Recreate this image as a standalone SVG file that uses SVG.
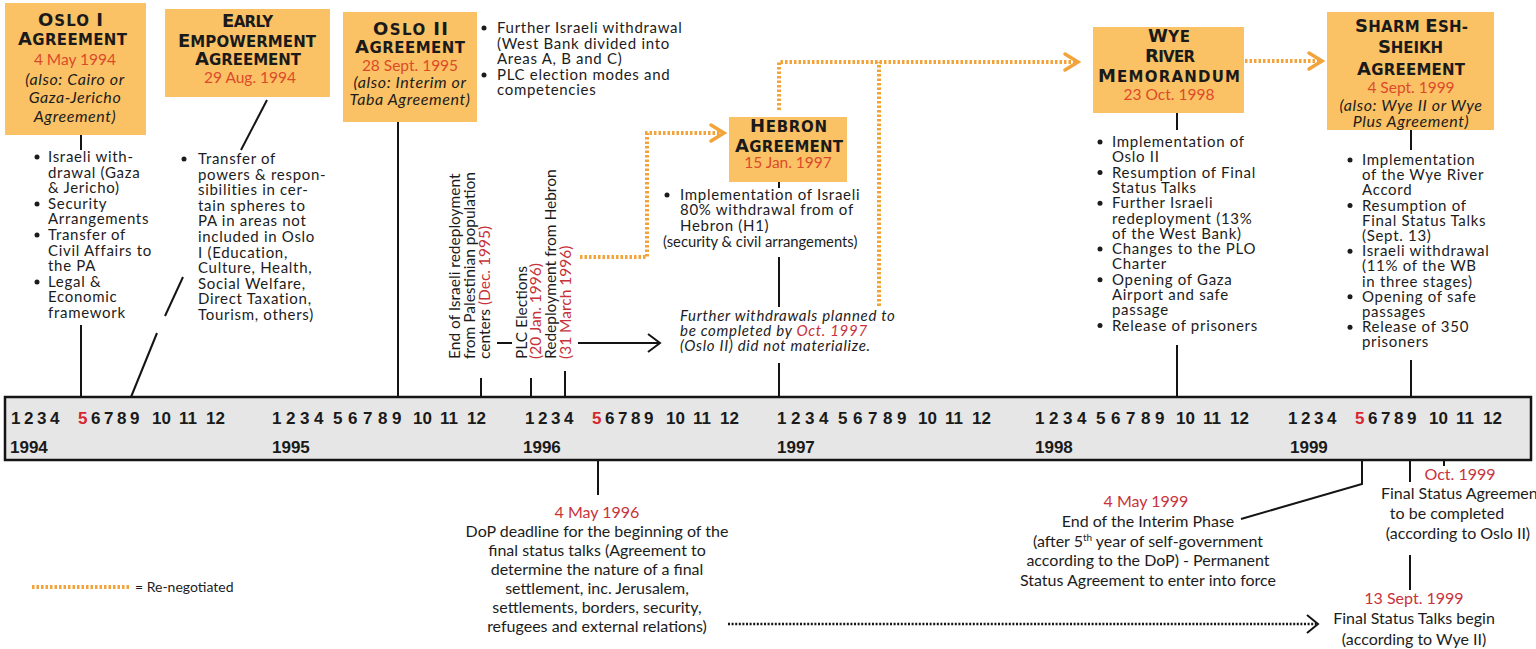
<svg xmlns="http://www.w3.org/2000/svg" width="1536" height="649" viewBox="0 0 1536 649">
<defs>
<style>
.bx{fill:#FAC265}
.t{font-family:Lato,"Liberation Sans",sans-serif;fill:#1c1c1c}
.b{font-size:15px;letter-spacing:0.7px}
.v{font-size:15.5px}
.s{font-size:14px}
.ti{font-family:"DejaVu Sans","Liberation Sans",sans-serif;font-weight:bold;font-size:15px;fill:#1a1a1a}
.bg{font-size:18px}
.dt{fill:#DD4A2A;font-size:15.5px}
.bi{font-style:italic;font-size:16px;letter-spacing:0.6px}
.rd{fill:#C8323A}
.it{font-style:italic}
.ln{stroke:#141414;stroke-width:2;fill:none}
.dot{stroke:#F2A33A;stroke-width:4;stroke-dasharray:2.5 2;fill:none}
.chev{stroke:#F2A33A;stroke-width:3.5;fill:none;stroke-linecap:round;stroke-linejoin:miter}
.bdot{stroke:#141414;stroke-width:2.5;stroke-dasharray:2 1.6;fill:none}
.mn{font-family:"Liberation Sans",Arial,sans-serif;font-weight:bold;font-size:17px;fill:#1a1a1a}
.m5{fill:#D8262E}
.blt{fill:#1c1c1c}
</style>
</defs>
<rect x="0" y="0" width="1536" height="649" fill="#ffffff"/>

<!-- connectors -->
<g id="connectors">
<line class="ln" x1="81" y1="135" x2="81" y2="150"/>
<line class="ln" x1="81" y1="325" x2="81" y2="397"/>
<line class="ln" x1="267" y1="100" x2="241" y2="150"/>
<line class="ln" x1="183" y1="277" x2="165" y2="316"/>
<line class="ln" x1="157" y1="333" x2="131" y2="397"/>
<line class="ln" x1="398" y1="122" x2="398" y2="397"/>
<line class="ln" x1="481" y1="378" x2="481" y2="397"/>
<line class="ln" x1="531" y1="378" x2="531" y2="397"/>
<line class="ln" x1="565" y1="371" x2="565" y2="397"/>
<line class="ln" x1="497" y1="343" x2="512" y2="343"/>
<line class="ln" x1="578" y1="343" x2="659" y2="343"/>
<polyline class="ln" points="648,334 660,343 648,352" stroke-width="2.5"/>
<line class="ln" x1="779" y1="182" x2="779" y2="188"/>
<line class="ln" x1="779" y1="257" x2="779" y2="307"/>
<line class="ln" x1="779" y1="363" x2="779" y2="397"/>
<line class="ln" x1="1177" y1="113" x2="1177" y2="130"/>
<line class="ln" x1="1177" y1="345" x2="1177" y2="397"/>
<line class="ln" x1="1411" y1="130" x2="1411" y2="150"/>
<line class="ln" x1="1411" y1="360" x2="1411" y2="397"/>
<line class="ln" x1="598" y1="460" x2="598" y2="495"/>
<polyline class="ln" points="1362,460 1362,484 1241,519"/>
<line class="ln" x1="1410" y1="460" x2="1410" y2="482"/>
<line class="ln" x1="1444" y1="460" x2="1444" y2="466"/>
<line class="ln" x1="1410" y1="555" x2="1410" y2="590"/>
<line class="bdot" x1="728" y1="624" x2="1316" y2="624"/>
<polyline class="ln" points="1307,615 1318,624 1307,633" stroke-width="2.5"/>
<!-- re-negotiated (orange dotted) -->
<polyline class="dot" points="580,257 647,257 647,133 722,133"/>
<polyline class="chev" points="711,125 724,133 711,141"/>
<polyline class="dot" points="779,110 779,62 1076,62"/>
<line class="dot" x1="879" y1="306" x2="879" y2="62"/>
<polyline class="chev" points="1065,54 1078,62 1065,70"/>
<line class="dot" x1="1245" y1="61" x2="1320" y2="61"/>
<polyline class="chev" points="1309,53 1322,61 1309,69"/>
</g>

<!-- timeline -->
<g id="timeline">
<rect x="5" y="397" width="1526" height="63" fill="#E6E6E6" stroke="#141414" stroke-width="2.5"/>
<text class="mn" y="424"><tspan x="11">1</tspan><tspan x="24">2</tspan><tspan x="37">3</tspan><tspan x="50">4</tspan><tspan x="78" class="m5">5</tspan><tspan x="91">6</tspan><tspan x="104">7</tspan><tspan x="117">8</tspan><tspan x="130">9</tspan><tspan x="152">10</tspan><tspan x="179">11</tspan><tspan x="206">12</tspan></text>
<text class="mn" y="424"><tspan x="272">1</tspan><tspan x="286">2</tspan><tspan x="300">3</tspan><tspan x="314">4</tspan><tspan x="333">5</tspan><tspan x="348">6</tspan><tspan x="363">7</tspan><tspan x="378">8</tspan><tspan x="392">9</tspan><tspan x="413">10</tspan><tspan x="440">11</tspan><tspan x="467">12</tspan></text>
<text class="mn" y="424"><tspan x="525">1</tspan><tspan x="538">2</tspan><tspan x="551">3</tspan><tspan x="564">4</tspan><tspan x="592" class="m5">5</tspan><tspan x="605">6</tspan><tspan x="618">7</tspan><tspan x="631">8</tspan><tspan x="644">9</tspan><tspan x="666">10</tspan><tspan x="693">11</tspan><tspan x="720">12</tspan></text>
<text class="mn" y="424"><tspan x="777">1</tspan><tspan x="791">2</tspan><tspan x="805">3</tspan><tspan x="819">4</tspan><tspan x="838">5</tspan><tspan x="853">6</tspan><tspan x="868">7</tspan><tspan x="883">8</tspan><tspan x="897">9</tspan><tspan x="918">10</tspan><tspan x="945">11</tspan><tspan x="972">12</tspan></text>
<text class="mn" y="424"><tspan x="1035">1</tspan><tspan x="1049">2</tspan><tspan x="1063">3</tspan><tspan x="1077">4</tspan><tspan x="1096">5</tspan><tspan x="1111">6</tspan><tspan x="1126">7</tspan><tspan x="1141">8</tspan><tspan x="1155">9</tspan><tspan x="1176">10</tspan><tspan x="1203">11</tspan><tspan x="1230">12</tspan></text>
<text class="mn" y="424"><tspan x="1288">1</tspan><tspan x="1301">2</tspan><tspan x="1314">3</tspan><tspan x="1327">4</tspan><tspan x="1355" class="m5">5</tspan><tspan x="1368">6</tspan><tspan x="1381">7</tspan><tspan x="1394">8</tspan><tspan x="1407">9</tspan><tspan x="1429">10</tspan><tspan x="1456">11</tspan><tspan x="1483">12</tspan></text>
<text class="mn" y="453"><tspan x="10">1994</tspan><tspan x="272">1995</tspan><tspan x="523">1996</tspan><tspan x="777">1997</tspan><tspan x="1035">1998</tspan><tspan x="1290">1999</tspan></text>
</g>

<!-- Oslo I -->
<g id="oslo1">
<rect class="bx" x="5" y="3" width="141" height="132"/>
<text class="ti" x="38" y="26" textLength="65"><tspan class="bg">O</tspan>SLO <tspan class="bg">I</tspan></text>
<text class="ti" x="18" y="45" textLength="109"><tspan class="bg">A</tspan>GREEMENT</text>
<text class="t dt" x="75" y="65" text-anchor="middle">4 May 1994</text>
<text class="t bi" x="75" y="85" text-anchor="middle">(also: Cairo or</text>
<text class="t bi" x="75" y="103" text-anchor="middle">Gaza-Jericho</text>
<text class="t bi" x="75" y="122" text-anchor="middle">Agreement)</text>
</g>
<g id="oslo1-items">
<circle class="blt" cx="37" cy="157" r="2.5"/><circle class="blt" cx="37" cy="204" r="2.5"/><circle class="blt" cx="37" cy="235" r="2.5"/><circle class="blt" cx="37" cy="282" r="2.5"/>
<text class="t b" x="48"><tspan y="162">Israeli with-</tspan><tspan x="48" y="177.6">drawal (Gaza</tspan><tspan x="48" y="193.2">&amp; Jericho)</tspan><tspan x="48" y="208.8">Security</tspan><tspan x="48" y="224.4">Arrangements</tspan><tspan x="48" y="240">Transfer of</tspan><tspan x="48" y="255.6">Civil Affairs to</tspan><tspan x="48" y="271.2">the PA</tspan><tspan x="48" y="286.8">Legal  &amp;</tspan><tspan x="48" y="302.4">Economic</tspan><tspan x="48" y="318">framework</tspan></text>
</g>

<!-- Early Empowerment -->
<g id="early-empowerment">
<rect class="bx" x="165" y="9" width="165" height="88"/>
<text class="ti" x="222" y="27" textLength="51"><tspan class="bg">E</tspan>ARLY</text>
<text class="ti" x="178" y="47" textLength="138"><tspan class="bg">E</tspan>MPOWERMENT</text>
<text class="ti" x="195" y="65" textLength="106"><tspan class="bg">A</tspan>GREEMENT</text>
<text class="t dt" x="250" y="83" text-anchor="middle">29 Aug. 1994</text>
</g>
<g id="early-items">
<circle class="blt" cx="184" cy="159" r="2.5"/>
<text class="t b" x="198"><tspan y="164">Transfer of</tspan><tspan x="198" y="179.6">powers &amp; respon-</tspan><tspan x="198" y="195.2">sibilities in cer-</tspan><tspan x="198" y="210.8">tain spheres to</tspan><tspan x="198" y="226.4">PA in areas not</tspan><tspan x="198" y="242">included in Oslo</tspan><tspan x="198" y="257.6">I (Education,</tspan><tspan x="198" y="273.2">Culture, Health,</tspan><tspan x="198" y="288.8">Social Welfare,</tspan><tspan x="198" y="304.4">Direct Taxation,</tspan><tspan x="198" y="320">Tourism, others)</tspan></text>
</g>

<!-- Oslo II -->
<g id="oslo2">
<rect class="bx" x="343" y="12" width="134" height="110"/>
<text class="ti" x="373" y="35" textLength="75"><tspan class="bg">O</tspan>SLO <tspan class="bg">II</tspan></text>
<text class="ti" x="355" y="53" textLength="110"><tspan class="bg">A</tspan>GREEMENT</text>
<text class="t dt" x="410" y="71" text-anchor="middle">28 Sept. 1995</text>
<text class="t bi" x="410" y="88" text-anchor="middle">(also: Interim or</text>
<text class="t bi" x="410" y="105" text-anchor="middle">Taba Agreement)</text>
</g>
<g id="oslo2-items">
<circle class="blt" cx="484" cy="28" r="2.5"/><circle class="blt" cx="484" cy="75" r="2.5"/>
<text class="t b" x="497"><tspan y="33">Further Israeli withdrawal</tspan><tspan x="497" y="48.5">(West Bank divided into</tspan><tspan x="497" y="64">Areas A, B and C)</tspan><tspan x="497" y="79.5">PLC election modes and</tspan><tspan x="497" y="95">competencies</tspan></text>
</g>

<!-- vertical event labels -->
<g id="redeployment-dec95">
<text class="t v" transform="translate(460,359) rotate(-90)">End of Israeli redeployment</text>
<text class="t v" transform="translate(475,359) rotate(-90)">from Palestinian population</text>
<text class="t v" transform="translate(490,359) rotate(-90)">centers <tspan class="rd">(Dec. 1995)</tspan></text>
</g>
<g id="plc-elections">
<text class="t v" transform="translate(527,359) rotate(-90)">PLC Elections</text>
<text class="t v rd" transform="translate(541,359) rotate(-90)">(20 Jan. 1996)</text>
</g>
<g id="hebron-redeployment">
<text class="t v" transform="translate(556,359) rotate(-90)">Redeployment from Hebron</text>
<text class="t v rd" transform="translate(571,359) rotate(-90)">(31 March 1996)</text>
</g>

<!-- Hebron -->
<g id="hebron">
<rect class="bx" x="729" y="117" width="118" height="65"/>
<text class="ti" x="750" y="132" textLength="77"><tspan class="bg">H</tspan>EBRON</text>
<text class="ti" x="735" y="152" textLength="108"><tspan class="bg">A</tspan>GREEMENT</text>
<text class="t dt" x="788" y="168" text-anchor="middle">15 Jan. 1997</text>
</g>
<g id="hebron-items">
<circle class="blt" cx="667" cy="195" r="2.5"/>
<text class="t b" x="680"><tspan y="200">Implementation of Israeli</tspan><tspan x="680" y="215.3">80% withdrawal from of</tspan><tspan x="680" y="230.6">Hebron (H1)</tspan></text>
<text class="t" font-size="14.8" x="663" y="247">(security &amp; civil arrangements)</text>
</g>
<g id="further-withdrawals">
<text class="t b it" x="680" y="321">Further withdrawals planned to</text>
<text class="t b it" x="680" y="336">be completed by <tspan class="rd">Oct. 1997</tspan></text>
<text class="t b it" x="680" y="351">(Oslo II) did not materialize.</text>
</g>

<!-- Wye River -->
<g id="wye-river">
<rect class="bx" x="1093" y="27" width="151" height="86"/>
<text class="ti" x="1148" y="42" textLength="42"><tspan class="bg">W</tspan>YE</text>
<text class="ti" x="1145" y="62" textLength="50"><tspan class="bg">R</tspan>IVER</text>
<text class="ti" x="1098" y="82" textLength="142"><tspan class="bg">M</tspan>EMORANDUM</text>
<text class="t dt" x="1169" y="100" text-anchor="middle">23 Oct. 1998</text>
</g>
<g id="wye-items">
<circle class="blt" cx="1100" cy="142" r="2.5"/><circle class="blt" cx="1100" cy="172.6" r="2.5"/><circle class="blt" cx="1100" cy="203.2" r="2.5"/><circle class="blt" cx="1100" cy="249.1" r="2.5"/><circle class="blt" cx="1100" cy="279.7" r="2.5"/><circle class="blt" cx="1100" cy="325.6" r="2.5"/>
<text class="t b" x="1112"><tspan y="147">Implementation of</tspan><tspan x="1112" y="162.3">Oslo II</tspan><tspan x="1112" y="177.6">Resumption of Final</tspan><tspan x="1112" y="192.9">Status Talks</tspan><tspan x="1112" y="208.2">Further Israeli</tspan><tspan x="1112" y="223.5">redeployment (13%</tspan><tspan x="1112" y="238.8">of the West Bank)</tspan><tspan x="1112" y="254.1">Changes to the PLO</tspan><tspan x="1112" y="269.4">Charter</tspan><tspan x="1112" y="284.7">Opening of Gaza</tspan><tspan x="1112" y="300">Airport and safe</tspan><tspan x="1112" y="315.3">passage</tspan><tspan x="1112" y="330.6">Release of prisoners</tspan></text>
</g>

<!-- Sharm Esh-Sheikh -->
<g id="sharm">
<rect class="bx" x="1327" y="12" width="167" height="118"/>
<text class="ti" x="1355" y="32" textLength="113"><tspan class="bg">S</tspan>HARM <tspan class="bg">E</tspan>SH-</text>
<text class="ti" x="1378" y="53" textLength="65"><tspan class="bg">S</tspan>HEIKH</text>
<text class="ti" x="1357" y="75" textLength="108"><tspan class="bg">A</tspan>GREEMENT</text>
<text class="t dt" x="1411" y="93" text-anchor="middle">4 Sept. 1999</text>
<text class="t bi" x="1411" y="111" text-anchor="middle">(also: Wye II or Wye</text>
<text class="t bi" x="1411" y="127" text-anchor="middle">Plus Agreement)</text>
</g>
<g id="sharm-items">
<circle class="blt" cx="1350" cy="160" r="2.5"/><circle class="blt" cx="1350" cy="205.6" r="2.5"/><circle class="blt" cx="1350" cy="251.2" r="2.5"/><circle class="blt" cx="1350" cy="296.8" r="2.5"/><circle class="blt" cx="1350" cy="327.2" r="2.5"/>
<text class="t b" x="1362"><tspan y="165">Implementation</tspan><tspan x="1362" y="180.2">of the Wye River</tspan><tspan x="1362" y="195.4">Accord</tspan><tspan x="1362" y="210.6">Resumption of</tspan><tspan x="1362" y="225.8">Final Status Talks</tspan><tspan x="1362" y="241">(Sept. 13)</tspan><tspan x="1362" y="256.2">Israeli withdrawal</tspan><tspan x="1362" y="271.4">(11% of the WB</tspan><tspan x="1362" y="286.6">in three stages)</tspan><tspan x="1362" y="301.8">Opening of safe</tspan><tspan x="1362" y="317">passages</tspan><tspan x="1362" y="332.2">Release of 350</tspan><tspan x="1362" y="347.4">prisoners</tspan></text>
</g>

<!-- below the bar -->
<g id="dop-deadline">
<text class="t rd" font-size="16" x="597" y="518" text-anchor="middle">4 May 1996</text>
<text class="t" font-size="16" text-anchor="middle"><tspan x="597" y="537">DoP deadline for the beginning of the</tspan><tspan x="597" y="556">final status talks  (Agreement to</tspan><tspan x="597" y="575">determine the nature of a final</tspan><tspan x="597" y="594">settlement, inc. Jerusalem,</tspan><tspan x="597" y="613">settlements, borders, security,</tspan><tspan x="597" y="632">refugees and external relations)</tspan></text>
</g>
<g id="interim-end">
<text class="t rd" font-size="16" x="1146" y="507" text-anchor="middle">4 May 1999</text>
<text class="t" font-size="16" text-anchor="middle"><tspan x="1148" y="527">End of the Interim Phase</tspan><tspan x="1148" y="547">(after 5<tspan font-size="10" dy="-6">th</tspan><tspan dy="6"> year of self-government</tspan></tspan><tspan x="1148" y="566">according to the DoP) - Permanent</tspan><tspan x="1148" y="586">Status Agreement to enter into force</tspan></text>
</g>
<g id="final-status-agreement">
<text class="t rd" font-size="16" x="1460" y="480" text-anchor="middle">Oct. 1999</text>
<text class="t" font-size="16" x="1381" y="499">Final Status Agreemen</text>
<text class="t" font-size="16" text-anchor="middle"><tspan x="1447" y="519">to be completed</tspan><tspan x="1458" y="539">(according to Oslo II)</tspan></text>
</g>
<g id="final-status-talks">
<text class="t rd" font-size="16" x="1414" y="604" text-anchor="middle">13 Sept. 1999</text>
<text class="t" font-size="16" text-anchor="middle"><tspan x="1414" y="624">Final Status Talks begin</tspan><tspan x="1414" y="645">(according to Wye II)</tspan></text>
</g>

<!-- legend -->
<g id="legend">
<line class="dot" x1="32" y1="587" x2="130" y2="587"/>
<text class="t s" x="135" y="592">= Re-negotiated</text>
</g>
</svg>
